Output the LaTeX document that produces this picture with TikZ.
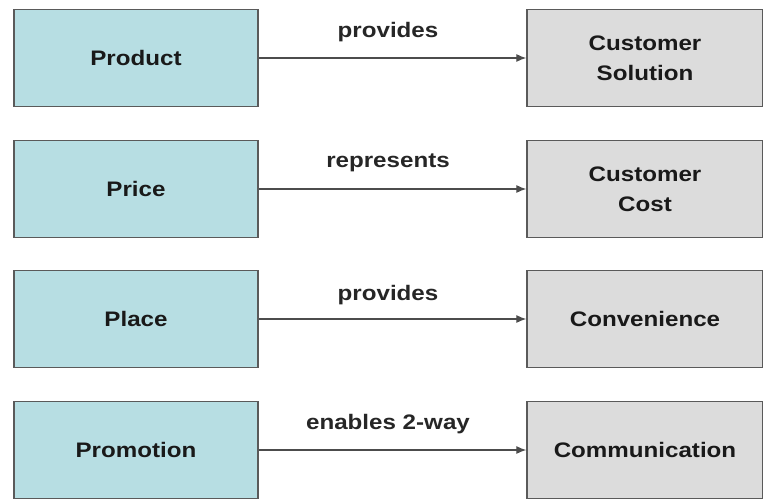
\documentclass[tikz,border=0pt]{standalone}
\usepackage{fontspec}
\setmainfont[FakeStretch=1.15]{Liberation Sans}
\usetikzlibrary{arrows.meta}
\definecolor{leftfill}{HTML}{B7DEE3}
\definecolor{rightfill}{HTML}{DCDCDC}
\definecolor{edgegray}{HTML}{5A5A5A}
\tikzset{
  leftbox/.style={draw=edgegray, line width=1.3pt, fill=leftfill, minimum width=244pt, minimum height=97pt, inner sep=0pt, font=\fontsize{21}{30}\selectfont\bfseries, align=center, text=black!90},
  rightbox/.style={draw=edgegray, line width=1.3pt, fill=rightfill, minimum width=236pt, minimum height=97pt, inner sep=0pt, font=\fontsize{21}{30}\selectfont\bfseries, align=center, text=black!90},
  conn/.style={draw=black!70, line width=1.2pt, -{Latex[length=10pt,width=8pt]}},
  lbl/.style={font=\fontsize{21}{24}\selectfont\bfseries, text=black!85}
}
\begin{document}
\begin{tikzpicture}[x=1pt,y=-1pt]
\useasboundingbox (0,0) rectangle (763,500);
\node[leftbox] (prod) at (136,58) {Product};
\node[leftbox] (price) at (136,189) {Price};
\node[leftbox] (place) at (136,319) {Place};
\node[leftbox] (promo) at (136,450) {Promotion};
\node[rightbox] (sol) at (645,58) {Customer\\Solution};
\node[rightbox] (cost) at (645,189) {Customer\\Cost};
\node[rightbox] (conv) at (645,319) {Convenience};
\node[rightbox] (comm) at (645,450) {Communication};
\draw[conn] (prod) -- (sol);
\draw[conn] (price) -- (cost);
\draw[conn] (place) -- (conv);
\draw[conn] (promo) -- (comm);
\node[lbl] (l1) at (388,32) {provides};
\node[lbl] (l2) at (388,163) {represents};
\node[lbl] (l3) at (388,295) {provides};
\node[lbl] (l4) at (388,424) {enables 2-way};
\end{tikzpicture}
\end{document}
